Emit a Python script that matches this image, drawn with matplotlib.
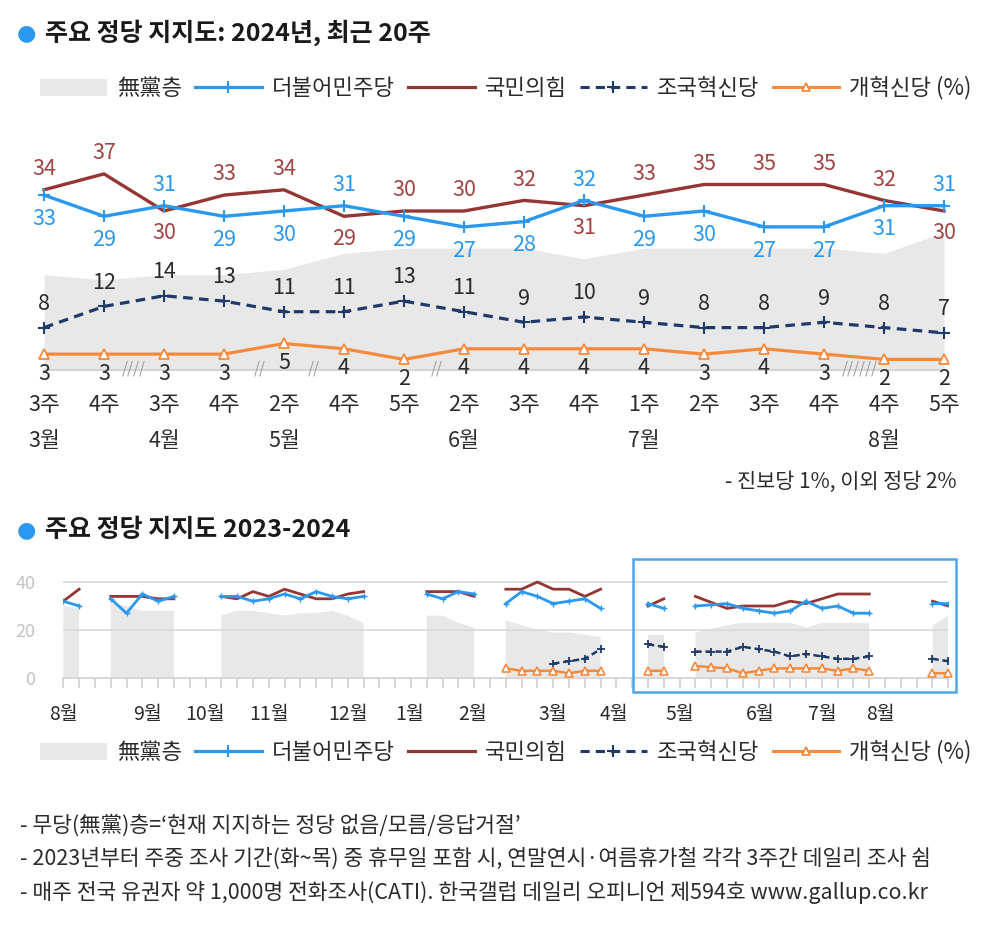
import matplotlib.pyplot as plt
from matplotlib.lines import Line2D
from matplotlib.patches import Patch, Rectangle
import numpy as np

plt.rcParams['font.family'] = ['Noto Sans CJK KR', 'DejaVu Sans']

W, H = 996, 936
n = np.nan

# --- top chart: recent weeks of 2024 ---
weeks = ['3주', '4주', '3주', '4주', '2주', '4주', '5주', '2주', '3주', '4주',
         '1주', '2주', '3주', '4주', '4주', '5주']
months = {0: '3월', 2: '4월', 4: '5월', 7: '6월', 10: '7월', 14: '8월'}
dem = [33, 29, 31, 29, 30, 31, 29, 27, 28, 32, 29, 30, 27, 27, 31, 31]
ppp = [34, 37, 30, 33, 34, 29, 30, 30, 32, 31, 33, 35, 35, 35, 32, 30]
cho = [8, 12, 14, 13, 11, 11, 13, 11, 9, 10, 9, 8, 8, 9, 8, 7]
ref = [3, 3, 3, 3, 5, 4, 2, 4, 4, 4, 4, 3, 4, 3, 2, 2]
indep = [18, 17, 18, 18, 19, 22, 23, 23, 23, 21, 23, 23, 23, 23, 22, 26]
breaks = {1.5: '////', 3.6: '//', 4.5: '//', 6.55: '//', 13.6: '//////'}

# --- bottom chart: weekly 2023-08 .. 2024-08 (nan = no survey) ---
dem_all = [32, 30, n, 33, 27, 35, 32, 34, n, n,
           34, 34, 32, 33, 35, 33, 36, 34, 33, 34, n, n, n,
           35, 33, 36, 35, n, 31, 36, 34, 31, 32, 33, 29, n, n,
           31, 29, n, 30, 30.5, 31, 29, 28, 27, 28, 32, 29, 30, 27, 27,
           n, n, n, 31, 31]
ppp_all = [32, 37, n, 34, 34, 34, 33, 33, n, n,
           34, 33, 36, 34, 37, 35, 33, 33, 35, 36, n, n, n,
           36, 36, 36, 34, n, 37, 37, 40, 37, 37, 34, 37, n, n,
           30, 33, n, 34, 31.5, 29, 30, 30, 30, 32, 31, 33, 35, 35, 35,
           n, n, n, 32, 30]
cho_all = [n, n, n, n, n, n, n, n, n, n,
           n, n, n, n, n, n, n, n, n, n, n, n, n,
           n, n, n, n, n, n, n, n, 6, 7, 8, 12, n, n,
           14, 13, n, 11, 11, 11, 13, 12, 11, 9, 10, 9, 8, 8, 9,
           n, n, n, 8, 7]
ref_all = [n, n, n, n, n, n, n, n, n, n,
           n, n, n, n, n, n, n, n, n, n, n, n, n,
           n, n, n, n, n, 4, 3, 3, 3, 2, 3, 3, n, n,
           3, 3, n, 5, 4.5, 4, 2, 3, 4, 4, 4, 4, 3, 4, 3,
           n, n, n, 2, 2]
indep_all = [30, 29, n, 31, 30, 28, 28, 28, n, n,
             26, 28, 28, 27, 26, 27, 27, 28, 26, 23, n, n, n,
             26, 26, 23, 21, n, 24, 22, 20, 19, 19, 18, 17, n, n,
             18, 18, n, 19, 20.5, 22, 23, 23, 23, 23, 21, 23, 23, 23, 23,
             n, n, n, 22, 26]
month_pos = [0, 5.3, 9, 13, 18, 21.9, 25.9, 31, 34.85, 39, 44.1, 48, 51.7]
month_lbl = ['8월', '9월', '10월', '11월', '12월', '1월', '2월', '3월', '4월',
             '5월', '6월', '7월', '8월']

legend_labels = ['無黨층', '더불어민주당', '국민의힘', '조국혁신당', '개혁신당 (%)']
notes = ["- 무당(無黨)층=‘현재 지지하는 정당 없음/모름/응답거절’",
         "- 2023년부터 주중 조사 기간(화~목) 중 휴무일 포함 시, 연말연시·여름휴가철 각각 3주간 데일리 조사 쉼",
         "- 매주 전국 유권자 약 1,000명 전화조사(CATI). 한국갤럽 데일리 오피니언 제594호 www.gallup.co.kr"]

BLUE = '#2a98ee'
RED = '#943634'
RED_TXT = '#a04543'
NAVY = '#1f3a68'
ORANGE = '#f58a3c'
GRAY = '#e8e8e8'
TXT = '#2b2b2b'

fig = plt.figure(figsize=(W / 100, H / 100), dpi=100)


def rect(x0, y0, x1, y1):
    return [x0 / W, 1 - y1 / H, (x1 - x0) / W, (y1 - y0) / H]


def add_legend(y):
    handles = [Patch(fc=GRAY, ec='none'),
               Line2D([], [], color=BLUE, lw=2.3, marker='+', ms=8, mew=1.5),
               Line2D([], [], color=RED, lw=2.3),
               Line2D([], [], color=NAVY, lw=2.2, ls=(0, (3, 2)), marker='+', ms=8, mew=1.5),
               Line2D([], [], color=ORANGE, lw=2.2, marker='^', ms=6, mfc='white', mew=1.3)]
    fig.legend(handles, legend_labels, loc='center left', bbox_to_anchor=(40 / W, 1 - y / H),
               ncol=5, frameon=False, fontsize=16, handlelength=3.0, handleheight=0.8,
               handletextpad=0.45, columnspacing=0.6, borderpad=0, borderaxespad=0,
               labelcolor=TXT)


for y, title in [(33, '주요 정당 지지도: 2024년, 최근 20주'), (530, '주요 정당 지지도 2023-2024')]:
    fig.text(17 / W, 1 - y / H, '●', color=BLUE, fontsize=16, va='center', family='DejaVu Sans')
    fig.text(45 / W, 1 - y / H, title, fontsize=18, fontweight='bold', va='center', color='#1a1a1a')

add_legend(88)
add_legend(752)

# top chart
ax = fig.add_axes(rect(44, 158, 944, 370))
x = np.arange(len(weeks))
ax.fill_between(x, 0, indep, color=GRAY, lw=0, clip_on=False, zorder=1)
ax.plot([0, len(weeks) - 1], [0, 0], color='#d4d4d4', lw=1.5, clip_on=False, zorder=1.5)
ax.plot(x, ppp, color=RED, lw=2.4, clip_on=False, zorder=3)
ax.plot(x, dem, color=BLUE, lw=2.4, marker='+', ms=8, mew=1.5, clip_on=False, zorder=4)
ax.plot(x, cho, color=NAVY, lw=2.3, ls=(0, (3, 2)), marker='+', ms=8, mew=1.5,
        clip_on=False, zorder=3)
ax.plot(x, ref, color=ORANGE, lw=2.3, marker='^', ms=7, mfc='white', mew=1.3,
        clip_on=False, zorder=3)

lab = dict(textcoords='offset points', ha='center', va='center', fontsize=15.5,
           annotation_clip=False)
for i in x:
    up = dem[i] > ppp[i]
    ax.annotate(str(dem[i]), (i, dem[i]), xytext=(0, 15 if up else -17), color=BLUE, **lab)
    ax.annotate(str(ppp[i]), (i, ppp[i]), xytext=(0, -16 if up else 15), color=RED_TXT, **lab)
    ax.annotate(str(cho[i]), (i, cho[i]), xytext=(0, 17), color=TXT, **lab)
    ax.annotate(str(ref[i]), (i, ref[i]), xytext=(0, -14), color=TXT, **lab)
    ax.annotate(weeks[i], (i, 0), xytext=(0, -25), color=TXT, **lab)
    if i in months:
        ax.annotate(months[i], (i, 0), xytext=(0, -51), color=TXT, **lab)
for pos, s in breaks.items():
    ax.annotate(s, (pos, 0), xytext=(0, 1), textcoords='offset points', ha='center',
                va='center', fontsize=11, color='#9a9a9a', style='italic',
                annotation_clip=False, zorder=5)
ax.set_xlim(0, len(weeks) - 1)
ax.set_ylim(0, 40)
ax.axis('off')

fig.text(957 / W, 1 - 482 / H, '- 진보당 1%, 이외 정당 2%', ha='right', va='center',
         fontsize=15, color=TXT)

# bottom chart
bx = fig.add_axes(rect(63.3, 572, 948.3, 678))
t = np.arange(len(dem_all))
bx.fill_between(t, 0, indep_all, color=GRAY, lw=0, zorder=1)
bx.plot(t, ppp_all, color=RED, lw=2, zorder=3)
bx.plot(t, dem_all, color=BLUE, lw=2, marker='+', ms=5, mew=1, zorder=3)
bx.plot(t, cho_all, color=NAVY, lw=1.8, ls=(0, (2.5, 1.5)), marker='+', ms=6, mew=1.3, zorder=3)
bx.plot(t, ref_all, color=ORANGE, lw=1.8, marker='^', ms=5.5, mfc='white', mew=1.2,
        zorder=3, clip_on=False)
bx.set_xlim(0, len(t) - 1)
bx.set_ylim(0, 44.17)
bx.set_axisbelow(False)
bx.grid(axis='y', color='#d9d9d9', lw=1.2, zorder=2)
bx.set_yticks([0, 20, 40])
bx.xaxis.remove_overlapping_locs = False
bx.set_xticks(t, [''] * len(t))
bx.set_xticks(month_pos, month_lbl, minor=True)
bx.tick_params(axis='x', which='major', length=7, width=1.2, color='#cfcfcf')
bx.tick_params(axis='x', which='minor', length=0, pad=19, labelsize=14, labelcolor=TXT)
bx.tick_params(axis='y', length=0, pad=20, labelsize=13, labelcolor='#c4c4c4')
for s in ['top', 'right', 'left']:
    bx.spines[s].set_visible(False)
bx.spines['bottom'].set_color('#cfcfcf')
bx.spines['bottom'].set_linewidth(1.2)

fig.add_artist(Rectangle((633 / W, 1 - 692 / H), 323 / W, 133 / H, transform=fig.transFigure,
                         fill=False, ec='#4ea6ea', lw=1.8))

for k, line in enumerate(notes):
    fig.text(20 / W, 1 - (826 + 33 * k) / H, line, fontsize=15.5, va='center', color=TXT)

fig.savefig('out.png', dpi=100, facecolor='white')
